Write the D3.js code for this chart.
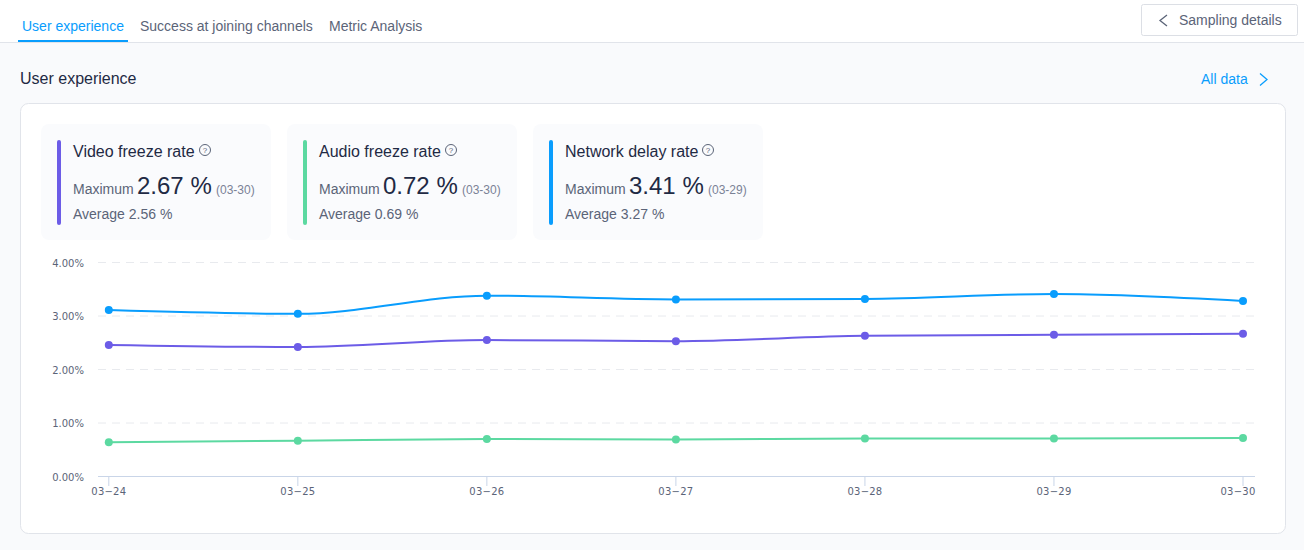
<!DOCTYPE html>
<html>
<head>
<meta charset="utf-8">
<script src="https://cdn.jsdelivr.net/npm/d3@7"></script>
<style>
html, body { margin: 0; padding: 0; background: #f9fafc; overflow: hidden; }
svg { display: block; font-family: "Liberation Sans", Arial, sans-serif; }
</style>
</head>
<body>
<svg id="chart" width="1304" height="550"></svg>
<script>
var days = ["03-24", "03-25", "03-26", "03-27", "03-28", "03-29", "03-30"];
var yTicks = [0, 1, 2, 3, 4];

var videoFreeze = [2.46, 2.42, 2.55, 2.53, 2.63, 2.65, 2.67];
var audioFreeze = [0.64, 0.67, 0.70, 0.69, 0.71, 0.71, 0.72];
var networkDelay = [3.11, 3.04, 3.38, 3.31, 3.32, 3.41, 3.28];

var tabNames = ["User experience", "Success at joining channels", "Metric Analysis"];
var tabStarts = [22, 140, 329];

var cardTitles = ["Video freeze rate", "Audio freeze rate", "Network delay rate"];
var cardMax = ["2.67 %", "0.72 %", "3.41 %"];
var cardMaxDay = ["(03-30)", "(03-30)", "(03-29)"];
var cardAvg = ["Average 2.56 %", "Average 0.69 %", "Average 3.27 %"];
var cardColors = ["#6c5ce7", "#5cd9a1", "#099dfd"];
var cardLefts = [41, 287, 533];
var iconOffsets = [164, 164, 175];

var svg = d3.select("#chart");
var blue = "#099dfd", dark = "#1f2a44", grey = "#5b6478";

// page chrome
svg.append("rect").attr("width", 1304).attr("height", 42).attr("fill", "#fff");
svg.append("line").attr("x1", 0).attr("x2", 1304).attr("y1", 42.5).attr("y2", 42.5).attr("stroke", "#e1e4ea");

tabNames.forEach(function (t, i) {
	svg.append("text").attr("x", tabStarts[i]).attr("y", 31).attr("font-size", 14)
		.attr("fill", i === 0 ? blue : grey).text(t);
});
svg.append("rect").attr("x", 18).attr("y", 40).attr("width", 110).attr("height", 2).attr("fill", blue);

svg.append("rect").attr("x", 1141.5).attr("y", 4.5).attr("width", 156).attr("height", 31).attr("rx", 2)
	.attr("fill", "#fff").attr("stroke", "#dcdfe5");
svg.append("path").attr("d", "M1167 15L1160 20.5L1167 26").attr("fill", "none").attr("stroke", grey).attr("stroke-width", 1.3);
svg.append("text").attr("x", 1179).attr("y", 25).attr("font-size", 14).attr("fill", grey).text("Sampling details");

svg.append("text").attr("x", 20).attr("y", 84).attr("font-size", 16).attr("fill", dark).text("User experience");
svg.append("text").attr("x", 1201).attr("y", 84).attr("font-size", 14).attr("fill", blue).text("All data");
svg.append("path").attr("d", "M1260 73.5L1267 79.5L1260 85.5").attr("fill", "none").attr("stroke", blue).attr("stroke-width", 1.3);

svg.append("rect").attr("x", 20.5).attr("y", 103.5).attr("width", 1265).attr("height", 430).attr("rx", 8)
	.attr("fill", "#fff").attr("stroke", "#e1e4ea");

// summary cards
cardTitles.forEach(function (title, i) {
	var g = svg.append("g").attr("transform", "translate(" + cardLefts[i] + ",0)");
	g.append("rect").attr("y", 124).attr("width", 230).attr("height", 116).attr("rx", 8).attr("fill", "#fafbfd");
	g.append("rect").attr("x", 16).attr("y", 140).attr("width", 4).attr("height", 85).attr("rx", 2).attr("fill", cardColors[i]);
	g.append("text").attr("x", 32).attr("y", 157).attr("font-size", 16).attr("fill", dark).text(title);

	var help = g.append("g").attr("transform", "translate(" + iconOffsets[i] + ",150)");
	help.append("circle").attr("r", 5.5).attr("fill", "none").attr("stroke", grey);
	help.append("text").attr("y", 3).attr("text-anchor", "middle").attr("font-size", 8).attr("fill", grey).text("?");

	g.append("text").attr("x", 32).attr("y", 194).attr("font-size", 14).attr("fill", grey).text("Maximum");
	g.append("text").attr("x", 96).attr("y", 194).attr("font-size", 24).attr("fill", dark).text(cardMax[i]);
	g.append("text").attr("x", 175).attr("y", 194).attr("font-size", 12).attr("fill", "#7a8296").text(cardMaxDay[i]);
	g.append("text").attr("x", 32).attr("y", 219).attr("font-size", 14).attr("fill", grey).text(cardAvg[i]);
});

// chart
var x = d3.scalePoint().domain(days).range([108.8, 1243]);
var y = d3.scaleLinear().domain([0, 4]).range([476.5, 262.5]);

var yAxis = svg.append("g").attr("transform", "translate(98,0.5)")
	.call(d3.axisLeft(y).tickValues(yTicks).tickSize(0).tickPadding(14)
		.tickFormat(function (d) { return d3.format(".2f")(d) + "%"; }));
yAxis.select(".domain").remove();
yAxis.selectAll("text").attr("font-family", "'DejaVu Sans', sans-serif").attr("font-size", 10).attr("fill", grey);

svg.append("g").selectAll("line").data(yTicks.filter(function (d) { return d > 0; })).join("line")
	.attr("x1", 98).attr("x2", 1255)
	.attr("y1", function (d) { return y(d); }).attr("y2", function (d) { return y(d); })
	.attr("stroke", "#e8eaee").attr("stroke-dasharray", "8 6");

var xAxis = svg.append("g").attr("transform", "translate(0,476)")
	.call(d3.axisBottom(x).offset(0).tickSize(10).tickPadding(2));
xAxis.select(".domain").remove();
xAxis.selectAll("line").attr("stroke", "#c9d5e8");
xAxis.selectAll("text").attr("font-family", "'DejaVu Sans', sans-serif").attr("font-size", 10)
	.attr("letter-spacing", 0.25).attr("fill", grey)
	.attr("dx", function (d) { return d === "03-30" ? -5 : 0; })
	.text(function (d) { return d.replace("-", "\u2212"); });
svg.append("line").attr("x1", 98).attr("x2", 1255).attr("y1", 476.5).attr("y2", 476.5).attr("stroke", "#c9d5e8");

var line = d3.line().x(function (d, i) { return x(days[i]); }).y(function (d) { return y(d); })
	.curve(d3.curveMonotoneX);

[videoFreeze, audioFreeze, networkDelay].forEach(function (values, i) {
	svg.append("path").attr("d", line(values)).attr("fill", "none")
		.attr("stroke", cardColors[i]).attr("stroke-width", 2);
	svg.append("g").selectAll("circle").data(values).join("circle")
		.attr("cx", function (d, j) { return x(days[j]); })
		.attr("cy", function (d) { return y(d); })
		.attr("r", 4).attr("fill", cardColors[i]);
});
</script>
</body>
</html>
